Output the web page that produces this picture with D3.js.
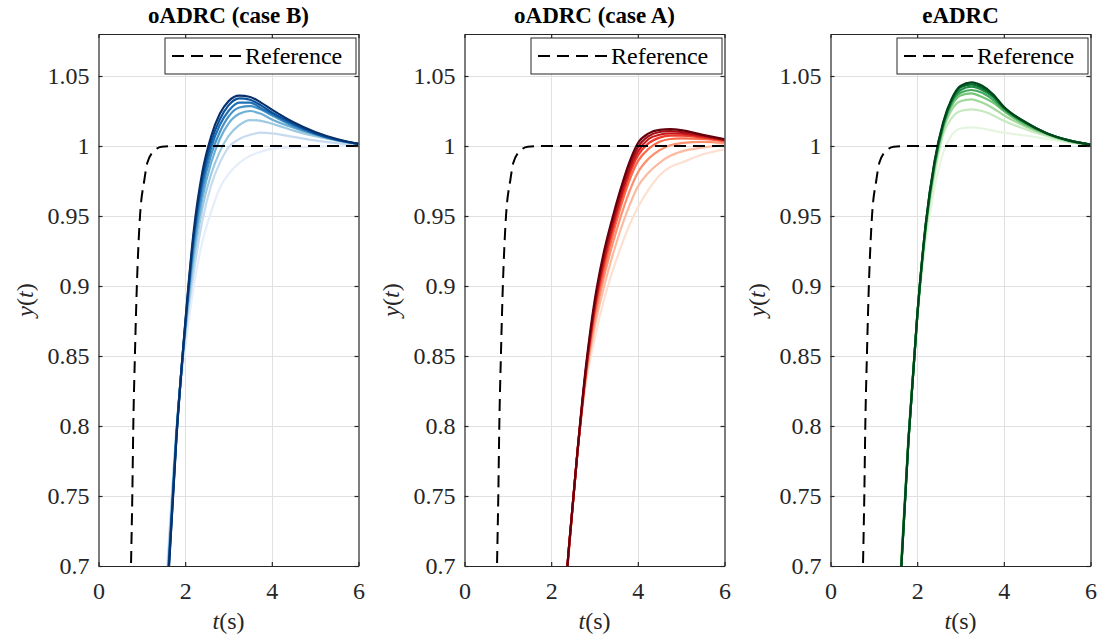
<!DOCTYPE html>
<html><head><meta charset="utf-8">
<script src="https://cdn.jsdelivr.net/npm/d3@7"></script>
<style>
body{margin:0;background:#fff}
svg{display:block}
svg text, svg tspan{font-family:"Liberation Serif",serif}
</style>
</head><body>
<svg id="c" width="1102" height="639" font-family="Liberation Serif, serif"></svg>
<script>
// ---------- data ----------
const xTicks = [0, 2, 4, 6];
const xTickLabels = ["0", "2", "4", "6"];
const yTicks = [0.7, 0.75, 0.8, 0.85, 0.9, 0.95, 1, 1.05];
const yTickLabels = ["0.7", "0.75", "0.8", "0.85", "0.9", "0.95", "1", "1.05"];
const titles = ["oADRC (case B)", "oADRC (case A)", "eADRC"];
const legendLabel = "Reference";

// reference trajectory (same in every panel)
const refT = [0.5, 0.75, 0.78, 0.803, 0.84, 0.885, 0.92, 0.958, 1.058, 1.127, 1.3, 1.46, 1.8, 6.0];
const refY = [0.2, 0.70, 0.75, 0.80, 0.85, 0.90, 0.928, 0.95, 0.9757, 0.988, 0.997, 0.9995, 1.0, 1.0];

// oADRC (case B), light -> dark
const timesB = [1.4, 1.6, 1.8, 2.0, 2.2, 2.4, 2.6, 2.8, 3.0, 3.25, 3.5, 3.75, 4.0, 4.5, 5.0, 5.5, 6.0];
const caseB = [
  [0.600, 0.708, 0.795, 0.855, 0.900, 0.932, 0.953, 0.970, 0.980, 0.988, 0.993, 0.996, 0.998, 0.999, 0.9995, 1.0, 1.0],
  [0.585, 0.701, 0.798, 0.863, 0.910, 0.947, 0.972, 0.988, 0.999, 1.005, 1.008, 1.0095, 1.009, 1.0065, 1.004, 1.002, 1.0008],
  [0.578, 0.697, 0.797, 0.866, 0.918, 0.956, 0.980, 0.996, 1.007, 1.015, 1.0185, 1.018, 1.016, 1.011, 1.007, 1.004, 1.0013],
  [0.573, 0.694, 0.796, 0.868, 0.925, 0.963, 0.988, 1.005, 1.016, 1.023, 1.025, 1.023, 1.019, 1.013, 1.008, 1.004, 1.0015],
  [0.569, 0.691, 0.795, 0.870, 0.930, 0.969, 0.994, 1.010, 1.021, 1.0275, 1.0285, 1.026, 1.022, 1.014, 1.0085, 1.0045, 1.0015],
  [0.566, 0.689, 0.794, 0.871, 0.934, 0.974, 0.999, 1.015, 1.025, 1.031, 1.031, 1.027, 1.023, 1.015, 1.009, 1.0045, 1.0015],
  [0.563, 0.687, 0.793, 0.872, 0.937, 0.978, 1.003, 1.019, 1.029, 1.034, 1.033, 1.029, 1.024, 1.016, 1.009, 1.0045, 1.0015],
  [0.560, 0.685, 0.792, 0.873, 0.940, 0.982, 1.007, 1.023, 1.032, 1.036, 1.035, 1.031, 1.026, 1.017, 1.010, 1.005, 1.0015]
];

// oADRC (case A), light -> dark
const timesA = [2.2, 2.4, 2.6, 2.8, 3.0, 3.2, 3.4, 3.6, 3.8, 4.0, 4.25, 4.5, 4.75, 5.0, 5.5, 6.0];
const caseA = [
  [0.63, 0.705, 0.778, 0.830, 0.862, 0.888, 0.909, 0.927, 0.943, 0.956, 0.969, 0.979, 0.985, 0.988, 0.994, 0.9976],
  [0.63, 0.707, 0.779, 0.833, 0.870, 0.897, 0.920, 0.940, 0.957, 0.971, 0.981, 0.988, 0.993, 0.996, 0.999, 1.0005],
  [0.63, 0.708, 0.779, 0.835, 0.875, 0.904, 0.928, 0.949, 0.967, 0.981, 0.991, 0.997, 1.0005, 1.002, 1.003, 1.0022],
  [0.63, 0.709, 0.779, 0.837, 0.879, 0.909, 0.934, 0.956, 0.975, 0.989, 0.998, 1.003, 1.005, 1.0055, 1.005, 1.0032],
  [0.63, 0.709, 0.779, 0.838, 0.882, 0.913, 0.938, 0.960, 0.979, 0.993, 1.002, 1.006, 1.0074, 1.0074, 1.006, 1.0038],
  [0.63, 0.710, 0.779, 0.839, 0.884, 0.916, 0.941, 0.963, 0.982, 0.996, 1.005, 1.008, 1.009, 1.0088, 1.0068, 1.0042],
  [0.63, 0.710, 0.779, 0.840, 0.886, 0.919, 0.944, 0.966, 0.985, 0.999, 1.007, 1.010, 1.0107, 1.010, 1.0075, 1.0045],
  [0.63, 0.710, 0.780, 0.842, 0.889, 0.922, 0.947, 0.969, 0.988, 1.002, 1.009, 1.0115, 1.012, 1.0113, 1.008, 1.0048]
];

// eADRC, light -> dark
const timesE = [1.4, 1.6, 1.8, 2.0, 2.2, 2.4, 2.6, 2.8, 3.0, 3.25, 3.5, 3.75, 4.0, 4.5, 5.0, 5.5, 6.0];
const eadrc = [
  [0.570, 0.690, 0.795, 0.874, 0.932, 0.970, 0.995, 1.008, 1.0125, 1.0133, 1.0125, 1.011, 1.0095, 1.0075, 1.005, 1.0025, 1.0008],
  [0.565, 0.687, 0.793, 0.876, 0.938, 0.979, 1.008, 1.020, 1.025, 1.0262, 1.025, 1.022, 1.018, 1.012, 1.007, 1.003, 1.001],
  [0.563, 0.685, 0.792, 0.877, 0.941, 0.983, 1.011, 1.026, 1.032, 1.0333, 1.031, 1.027, 1.022, 1.014, 1.008, 1.0035, 1.001],
  [0.562, 0.683, 0.791, 0.877, 0.942, 0.985, 1.013, 1.029, 1.036, 1.0376, 1.035, 1.031, 1.025, 1.015, 1.0085, 1.0035, 1.001],
  [0.561, 0.682, 0.791, 0.878, 0.943, 0.986, 1.014, 1.031, 1.038, 1.040, 1.038, 1.033, 1.026, 1.016, 1.0088, 1.004, 1.001],
  [0.561, 0.681, 0.790, 0.878, 0.944, 0.987, 1.015, 1.032, 1.040, 1.0424, 1.040, 1.035, 1.027, 1.0165, 1.009, 1.004, 1.001],
  [0.560, 0.680, 0.790, 0.878, 0.945, 0.988, 1.016, 1.033, 1.042, 1.044, 1.0415, 1.036, 1.0275, 1.017, 1.009, 1.004, 1.001],
  [0.560, 0.680, 0.790, 0.878, 0.945, 0.989, 1.017, 1.034, 1.043, 1.0455, 1.043, 1.037, 1.028, 1.017, 1.009, 1.004, 1.001]
];

// ---------- layout / style ----------
const FONT = "Liberation Serif, serif";
const panels = [
  {title: titles[0], t: timesB, series: caseB, colors: ["#e6eefb"].concat(d3.schemeBlues[9].slice(2))},
  {title: titles[1], t: timesA, series: caseA, colors: d3.schemeReds[9].slice(1)},
  {title: titles[2], t: timesE, series: eadrc, colors: d3.schemeGreens[9].slice(1)}
];
const lefts = [98.5, 464.5, 830.5];
const W = 260, plotTop = 34, plotBottom = 566;
const axisColor = "#262626", gridColor = "#e1e1e1";
const svg = d3.select("#c");

panels.forEach((p, i) => {
  const L = lefts[i];
  const x = d3.scaleLinear().domain([0, 6]).range([L, L + W]);
  const y = d3.scaleLinear().domain([0.7, 1.08]).range([plotBottom, plotTop]);
  const g = svg.append("g").attr("font-family", FONT);
  const clipId = "clip" + i;
  g.append("clipPath").attr("id", clipId).append("rect")
    .attr("x", L).attr("y", plotTop).attr("width", W).attr("height", plotBottom - plotTop);

  // grid
  g.selectAll(".gx").data(xTicks.slice(1, -1)).enter().append("line")
    .attr("x1", d => Math.round(x(d)) + 0.5).attr("x2", d => Math.round(x(d)) + 0.5)
    .attr("y1", plotTop).attr("y2", plotBottom).attr("stroke", gridColor).attr("stroke-width", 1);
  g.selectAll(".gy").data(yTicks.slice(1)).enter().append("line")
    .attr("y1", d => Math.round(y(d)) + 0.5).attr("y2", d => Math.round(y(d)) + 0.5)
    .attr("x1", L).attr("x2", L + W).attr("stroke", gridColor).attr("stroke-width", 1);

  // curves
  const line = d3.line().curve(d3.curveMonotoneX);
  const cg = g.append("g").attr("clip-path", `url(#${clipId})`);
  p.series.forEach((s, k) => {
    cg.append("path")
      .attr("d", line(p.t.map((t, j) => [x(t), y(s[j])])))
      .attr("fill", "none").attr("stroke", p.colors[k]).attr("stroke-width", 2.2);
  });
  // reference
  cg.append("path")
    .attr("d", line(refT.map((t, j) => [x(t), y(refY[j])])))
    .attr("fill", "none").attr("stroke", "#000").attr("stroke-width", 2)
    .attr("stroke-dasharray", "12,7");

  // axes with inward ticks (box)
  const tl = 4;
  const xa = g.append("g").attr("transform", `translate(0,${plotBottom})`)
    .call(d3.axisBottom(x).tickValues(xTicks).tickSize(-tl).tickSizeOuter(0)
      .tickFormat((d, j) => xTickLabels[j]));
  const xt = g.append("g").attr("transform", `translate(0,${plotTop})`)
    .call(d3.axisTop(x).tickValues(xTicks).tickSize(-tl).tickSizeOuter(0).tickFormat(""));
  const ya = g.append("g").attr("transform", `translate(${L},0)`)
    .call(d3.axisLeft(y).tickValues(yTicks).tickSize(-tl).tickSizeOuter(0)
      .tickFormat((d, j) => yTickLabels[j]));
  const yr = g.append("g").attr("transform", `translate(${L + W},0)`)
    .call(d3.axisRight(y).tickValues(yTicks).tickSize(-tl).tickSizeOuter(0).tickFormat(""));
  [xa, xt, ya, yr].forEach(a => {
    a.attr("font-family", FONT).attr("font-size", 24);
    a.select(".domain").attr("stroke", axisColor).attr("stroke-width", 1.2);
    a.selectAll(".tick line").attr("stroke", axisColor).attr("stroke-width", 1.2);
    a.selectAll(".tick text").attr("fill", axisColor).attr("font-family", FONT).attr("font-size", 24);
  });
  xa.selectAll(".tick text").attr("y", 16).attr("dy", "0.71em");
  ya.selectAll(".tick text").attr("x", -9).attr("dy", "0.33em");

  // title
  g.append("text").attr("x", L + W / 2).attr("y", 23).attr("text-anchor", "middle")
    .attr("font-family", FONT).attr("font-size", 23).attr("font-weight", "bold")
    .attr("fill", "#000").text(p.title);

  // x label
  const xl = g.append("text").attr("x", L + W / 2).attr("y", 629).attr("text-anchor", "middle")
    .attr("font-family", FONT).attr("font-size", 24).attr("fill", axisColor);
  xl.append("tspan").attr("font-style", "italic").text("t");
  xl.append("tspan").text("(s)");

  // y label
  const ylb = g.append("text")
    .attr("transform", `translate(${L - 66},${(plotTop + plotBottom) / 2}) rotate(-90)`)
    .attr("text-anchor", "middle").attr("font-family", FONT).attr("font-size", 24).attr("fill", axisColor);
  ylb.append("tspan").attr("font-style", "italic").text("y");
  ylb.append("tspan").text("(");
  ylb.append("tspan").attr("font-style", "italic").text("t");
  ylb.append("tspan").text(")");

  // legend
  const lx = L + W - 193.5, ly = plotTop + 4;
  g.append("rect").attr("x", lx).attr("y", ly).attr("width", 191).attr("height", 36)
    .attr("fill", "#fff").attr("stroke", axisColor).attr("stroke-width", 1);
  g.append("line").attr("x1", lx + 7).attr("x2", lx + 76).attr("y1", ly + 18).attr("y2", ly + 18)
    .attr("stroke", "#000").attr("stroke-width", 2).attr("stroke-dasharray", "12,7");
  g.append("text").attr("x", lx + 80).attr("y", ly + 18).attr("dy", "0.35em")
    .attr("font-family", FONT).attr("font-size", 24).attr("fill", "#000").text(legendLabel);
});
</script>
</body></html>
